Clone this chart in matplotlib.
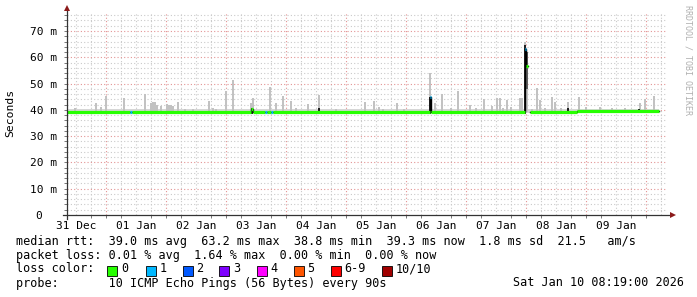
import matplotlib
matplotlib.use('Agg')
import matplotlib.pyplot as plt
import numpy as np
from matplotlib.patches import Rectangle

# ---------------- data ----------------
start_time = "2025-12-31 08:19"          # left edge of the plot
span_hours = 240.0                       # 10 days shown
first_midnight_h = 15.683                # 01 Jan 00:00 relative to start
day_labels = ["31 Dec", "01 Jan", "02 Jan", "03 Jan", "04 Jan",
              "05 Jan", "06 Jan", "07 Jan", "08 Jan", "09 Jan"]
y_ticks = [0, 10, 20, 30, 40, 50, 60, 70]
y_tick_labels = ["0  ", "10 m", "20 m", "30 m", "40 m", "50 m", "60 m", "70 m"]

# smoke spikes (hours since start, top of smoke in ms)
smoke_h = [0.0, 3.2, 11.6, 13.6, 15.6, 22.8, 31.2, 33.6, 34.4, 35.2, 36.0, 37.6,
           40.0, 40.8, 41.6, 42.4, 44.4, 47.2, 50.4, 56.8, 58.4, 59.6, 63.6, 66.4,
           73.6, 74.4, 81.2, 83.6, 86.4, 89.6, 91.6, 96.4, 100.8, 107.6, 119.2,
           122.8, 124.8, 126.4, 132.0, 134.8, 145.2, 147.2, 150.0, 153.6, 156.4,
           161.2, 163.6, 166.8, 170.0, 172.0, 173.2, 174.4, 176.0, 177.6, 181.2,
           182.0, 183.2, 184.0, 186.0, 188.0, 189.2, 191.2, 194.0, 195.2, 197.6,
           200.4, 204.8, 207.6, 213.2, 218.0, 223.2, 229.2, 231.2, 234.8]
smoke_top = [42.2, 40.6, 42.6, 41.0, 45.2, 44.5, 46.0, 42.5, 43.0, 43.0, 42.0, 41.4,
             42.3, 42.0, 42.0, 41.5, 43.0, 40.5, 40.5, 43.3, 40.7, 40.5, 47.0, 51.3,
             42.5, 44.5, 48.7, 42.6, 45.2, 43.3, 40.7, 42.2, 45.6, 40.3, 43.0,
             43.3, 41.0, 40.5, 42.6, 40.5, 54.0, 42.6, 46.0, 40.7, 47.0,
             41.8, 40.6, 44.0, 41.4, 44.5, 44.5, 40.8, 43.7, 41.0, 44.5,
             44.5, 66.0, 57.8, 40.5, 48.3, 43.7, 40.8, 44.9, 43.0, 40.6,
             43.0, 45.0, 41.2, 41.0, 40.6, 40.8, 42.6, 44.0, 45.2]
smoke_floor = 39.0
smoke_band = [38.9, 40.3]
data_end_h = 236.8

# dark smoke (dense ping spread)
dark_h = [74.0, 100.8, 145.2, 183.2, 184.0, 200.4, 228.8]
dark_lo = [38.6, 38.6, 38.6, 38.6, 48.0, 38.6, 38.8]
dark_top = [40.6, 40.6, 45.0, 64.5, 62.0, 40.6, 40.4]
dark_col = ['#202020', '#202020', '#202020', '#202020', '#606060', '#202020', '#202020']

# median rtt (breakpoints, value per segment, loss level per segment)
med_h = [0.0, 25.0, 25.8, 73.6, 74.4, 79.2, 80.0, 81.6, 82.4, 145.0, 145.6,
         183.0, 183.6, 184.4, 185.2, 204.0, 236.8]
med_ms = [39.0, 39.0, 39.0, 40.3, 39.0, 39.0, 39.0, 39.0, 39.0, 45.0, 39.0,
          63.2, 56.5, np.nan, 39.0, 39.5]
med_loss = [0, 1, 0, 0, 0, 1, 0, 1, 0, 1, 0, 1, 0, 0, 0, 0]

loss_labels = ["0", "1", "2", "3", "4", "5", "6-9", "10/10"]
loss_colors = ["#26ff00", "#00b8ff", "#0059ff", "#7e00ff", "#ff00ff",
               "#ff5500", "#ff0000", "#a10000"]

line1 = "median rtt:  39.0 ms avg  63.2 ms max  38.8 ms min  39.3 ms now  1.8 ms sd  21.5   am/s"
line2 = "packet loss: 0.01 % avg  1.64 % max  0.00 % min  0.00 % now"
line3 = "loss color:"
line4 = "probe:       10 ICMP Echo Pings (56 Bytes) every 90s"
date_text = "Sat Jan 10 08:19:00 2026"

# ---------------- figure ----------------
W, H = 697, 297
mono = 'DejaVu Sans Mono'
plt.rcParams['font.family'] = mono
fig = plt.figure(figsize=(W / 100, H / 100), dpi=100, facecolor='white')

x0, x1 = 67, 667
y_bot, y_top = 215, 12.6
ax = fig.add_axes([x0 / W, (H - y_bot) / H, (x1 - x0) / W, (y_bot - y_top) / H])
ax.set_facecolor('white')
ax.set_xlim(0, span_hours)
ax.set_ylim(0, 77)
for s in ax.spines.values():
    s.set_visible(False)

# grid
minor_col = '#cacaca'
major_col = '#e39494'
dots = (0, (1, 2))
h = first_midnight_h - 24
while h < span_hours:
    for q in range(4):
        hh = h + q * 6
        if 0 < hh < span_hours:
            ax.axvline(hh, color=major_col if q == 0 else minor_col, lw=0.8,
                       ls=dots, zorder=0.5 if q == 0 else 0)
    h += 24
for v in np.arange(2, 77, 2):
    ax.axhline(v, color=major_col if v % 10 == 0 else minor_col, lw=0.8,
               ls=dots, zorder=0.5 if v % 10 == 0 else 0)

# smoke
ax.fill_between([0, data_end_h], smoke_band[0], smoke_band[1], color='#d6d6d6',
                lw=0, zorder=1)
ax.bar(smoke_h, np.array(smoke_top) - smoke_floor, bottom=smoke_floor, width=0.8,
       color='#c2c2c2', lw=0, zorder=2)
ax.bar(dark_h, np.array(dark_top) - np.array(dark_lo), bottom=dark_lo, width=0.8,
       color=dark_col, lw=0, zorder=3)

# median
ax.plot(med_h, med_ms + [med_ms[-1]], drawstyle='steps-post', color='#000000',
        lw=1.0, zorder=4)
for i in range(len(med_ms)):
    if np.isnan(med_ms[i]):
        continue
    ax.hlines(med_ms[i], med_h[i], med_h[i + 1], color=loss_colors[med_loss[i]],
              lw=2.3, zorder=5)

# ticks
ax.set_yticks(y_ticks)
ax.set_yticklabels(y_tick_labels)
ax.set_yticks(np.arange(0, 77, 2), minor=True)
ax.tick_params(axis='y', which='both', length=2.5, width=0.7, color='#777777',
               pad=5, labelsize=8)
noon = [first_midnight_h - 12 + 24 * i for i in range(len(day_labels))]
ax.set_xticks(noon)
ax.set_xticklabels(day_labels)
ax.tick_params(axis='x', which='major', length=0, pad=4, labelsize=8)
ax.set_xticks([first_midnight_h - 24 + 6 * i for i in range(1, 41)
               if 0 < first_midnight_h - 24 + 6 * i < span_hours], minor=True)
ax.tick_params(axis='x', which='minor', length=2, width=0.7, color='#777777')

# axes with arrows
ax.plot([-1.6, span_hours + 1.6], [0, 0], color='#333333', lw=0.9, clip_on=False, zorder=6)
ax.plot([0, 0], [-1.5, 78.0], color='#333333', lw=0.9, clip_on=False, zorder=6)
ax.plot([span_hours + 2.4], [0], marker='>', ms=4.5, color='#8b1a1a', mew=0,
        clip_on=False, zorder=7)
ax.plot([0], [78.6], marker='^', ms=4.5, color='#8b1a1a', mew=0,
        clip_on=False, zorder=7)

# y label
fig.text(10 / W, 1 - 113 / H, "Seconds", rotation=90, ha='center', va='center',
         fontsize=8.2, color='#000000')
# watermark
fig.text(688 / W, 1 - 5 / H, "RRDTOOL / TOBI OETIKER", rotation=270, ha='center',
         va='top', fontsize=6.0, color='#b0b0b0')

# legend
fs = 8.5
def ftext(x, y, s, **kw):
    fig.text(x / W, 1 - y / H, s, ha='left', va='center', fontsize=fs, **kw)

ftext(16, 241, line1)
ftext(16, 255, line2)
ftext(16, 269, line3)
ftext(16, 283, line4)
ftext(513, 283, date_text)

sq_x = [107, 145.5, 182.5, 219, 256.5, 293.5, 330.5, 381.5]
for sx, lab, col in zip(sq_x, loss_labels, loss_colors):
    fig.add_artist(Rectangle((sx / W, 1 - 276 / H), 10 / W, 10 / H,
                             transform=fig.transFigure, facecolor=col,
                             edgecolor='#000000', lw=0.6))
    ftext(sx + 14, 269, lab)

fig.savefig('out.png', dpi=100, facecolor='white')
